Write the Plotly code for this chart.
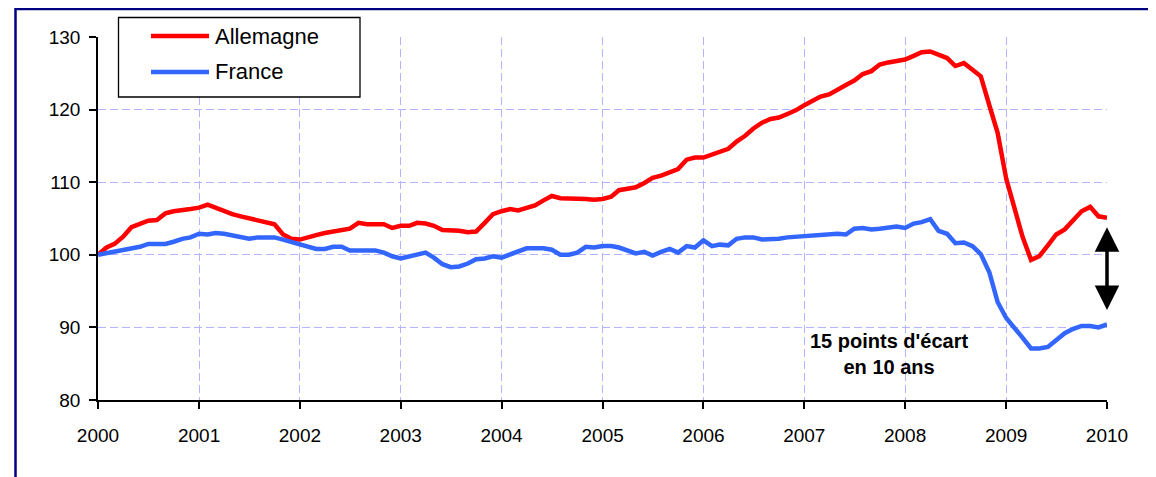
import pandas as pd
import plotly.graph_objects as go

# Monthly index, base 100 = January 2000
months = pd.date_range("2000-01-01", "2010-01-01", freq="MS")

allemagne = [
    100.0, 101.0, 101.5, 102.5, 103.8, 104.2, 104.7, 104.8, 105.7, 106.0, 106.1, 106.3,
    106.5, 106.9, 106.5, 106.0, 105.6, 105.3, 105.0, 104.8, 104.5, 104.2, 102.8, 102.2,
    102.1, 102.5, 102.7, 103.0, 103.2, 103.5, 103.6, 104.4, 104.2, 104.2, 104.2, 103.7,
    104.0, 104.0, 104.4, 104.3, 104.0, 103.4, 103.4, 103.3, 103.1, 103.2, 104.4, 105.6,
    106.0, 106.3, 106.1, 106.4, 106.8, 107.5, 108.1, 107.8, 107.8, 107.8, 107.7, 107.6,
    107.7, 108.0, 108.9, 109.1, 109.3, 109.9, 110.6, 110.9, 111.3, 111.8, 113.1, 113.4,
    113.4, 113.8, 114.2, 114.6, 115.6, 116.4, 117.4, 118.2, 118.7, 118.9, 119.4, 119.9,
    120.6, 121.3, 121.8, 122.1, 122.8, 123.4, 124.0, 124.9, 125.3, 126.2, 126.5, 126.7,
    126.9, 127.4, 127.9, 128.0, 127.5, 127.1, 126.0, 126.4, 125.5, 124.6, 120.6, 116.8,
    110.5, 106.0, 102.5, 99.3, 99.8, 101.3, 102.8, 103.5, 104.8, 106.0, 106.6, 105.3,
    105.1,
]

france = [
    100.0, 100.2, 100.4, 100.6, 100.9, 101.1, 101.5, 101.5, 101.5, 101.8, 102.2, 102.4,
    102.9, 102.8, 103.0, 102.9, 102.7, 102.5, 102.2, 102.4, 102.4, 102.4, 102.1, 101.8,
    101.5, 101.1, 100.8, 100.8, 101.1, 101.1, 100.6, 100.6, 100.6, 100.6, 100.3, 99.8,
    99.5, 99.8, 100.1, 100.3, 99.6, 98.7, 98.3, 98.4, 98.8, 99.4, 99.5, 99.8,
    99.6, 100.1, 100.5, 100.9, 100.9, 100.9, 100.7, 100.0, 100.0, 100.3, 101.1, 101.0,
    101.2, 101.2, 101.0, 100.6, 100.2, 100.4, 99.9, 100.4, 100.8, 100.3, 101.2, 101.0,
    102.0, 101.2, 101.4, 101.3, 102.2, 102.4, 102.4, 102.1, 102.1, 102.2, 102.4, 102.5,
    102.6, 102.6, 102.7, 102.8, 102.9, 102.8, 103.6, 103.7, 103.5, 103.6, 103.7, 103.9,
    103.7, 104.3, 104.5, 104.9, 103.3, 102.9, 101.6, 101.7, 101.2, 100.1, 97.6, 93.5,
    91.3, 90.0, 88.6, 87.1, 87.1, 87.3, 88.2, 89.2, 89.8, 90.2, 90.2, 90.0,
    90.4,
]

series_names = ["Allemagne", "France"]
series_colors = ["#FF0000", "#3366FF"]
year_ticks = pd.date_range("2000-01-01", "2010-01-01", freq="YS")
year_labels = [str(d.year) for d in year_ticks]
y_ticks = [80, 90, 100, 110, 120, 130]

annot_text = "15 points d'écart<br>en 10 ans"
arrow_top = 104.0
arrow_bottom = 92.4

FONT = "Liberation Sans, Arial, sans-serif"
GRID = "#B3B3FF"

# plot-area geometry helpers (page pixels -> paper fractions)
PL, PT, PW, PH = 98, 37, 1009, 363


def px(xp):
    return (xp - PL) / PW


def py(yp):
    return (PT + PH - yp) / PH


fig = go.Figure()
for name, vals, col in zip(series_names, [allemagne, france], series_colors):
    fig.add_trace(go.Scatter(
        x=months, y=vals, mode="lines", name=name,
        line=dict(color=col, width=4.5), showlegend=False,
    ))

fig.update_xaxes(
    type="date", range=[months[0], months[-1]],
    tickmode="array", tickvals=year_ticks, ticktext=year_labels,
    showgrid=True, gridcolor=GRID, griddash="8px,4px", gridwidth=1,
    showline=True, linecolor="black", linewidth=1.5,
    ticks="outside", ticklen=7, tickcolor="black", tickwidth=1.5,
    ticklabelstandoff=10,
    tickfont=dict(family=FONT, size=19, color="black"),
    zeroline=False,
)
fig.update_yaxes(
    range=[80, 130], tickmode="array", tickvals=y_ticks,
    showgrid=True, gridcolor=GRID, griddash="8px,4px", gridwidth=1,
    showline=True, linecolor="black", linewidth=1.5,
    ticks="outside", ticklen=7, tickcolor="black", tickwidth=1.5,
    ticklabelstandoff=5,
    tickfont=dict(family=FONT, size=19, color="black"),
    zeroline=False,
)

# double-headed arrow showing the gap
fig.add_annotation(
    x=months[-1], y=arrow_bottom, ax=months[-1], ay=arrow_top,
    xref="x", yref="y", axref="x", ayref="y",
    showarrow=True, arrowhead=2, startarrowhead=2, arrowside="end+start",
    arrowwidth=3.5, arrowsize=1.4, startarrowsize=1.4, arrowcolor="black", text="",
)
fig.add_annotation(
    x=pd.Timestamp("2007-11-05"), y=86.4, xref="x", yref="y",
    text=annot_text, showarrow=False, align="center",
    font=dict(family=FONT, size=20, color="black", weight="bold"),
)

# legend box drawn by hand (to match the original's proportions)
fig.add_shape(type="rect", xref="paper", yref="paper",
              x0=px(118.5), x1=px(360), y0=py(17.5), y1=py(97),
              line=dict(color="black", width=1.3), fillcolor="white", layer="above")
for i, (name, col) in enumerate(zip(series_names, series_colors)):
    yy = 36 + 36 * i
    fig.add_shape(type="line", xref="paper", yref="paper",
                  x0=px(151), x1=px(209), y0=py(yy), y1=py(yy),
                  line=dict(color=col, width=4.5), layer="above")
    fig.add_annotation(x=px(213), y=py(yy), xref="paper", yref="paper",
                       text=name, showarrow=False, xanchor="left", yanchor="middle",
                       font=dict(family=FONT, size=22, color="black"))

# outer frame lines (dark blue)
fig.add_shape(type="line", xref="paper", yref="paper",
              x0=px(15), x1=px(1160), y0=py(9), y1=py(9),
              line=dict(color="#000080", width=2.5))
fig.add_shape(type="line", xref="paper", yref="paper",
              x0=px(15.5), x1=px(15.5), y0=py(8), y1=py(490),
              line=dict(color="#000080", width=2.5))

# page body has an 8px margin: shrink figure so the plot area lands where the original has it
fig.update_layout(
    width=1148, height=469,
    margin=dict(l=90, r=49, t=29, b=77),
    paper_bgcolor="white", plot_bgcolor="white",
    showlegend=False,
)

fig.write_html("out.html")
